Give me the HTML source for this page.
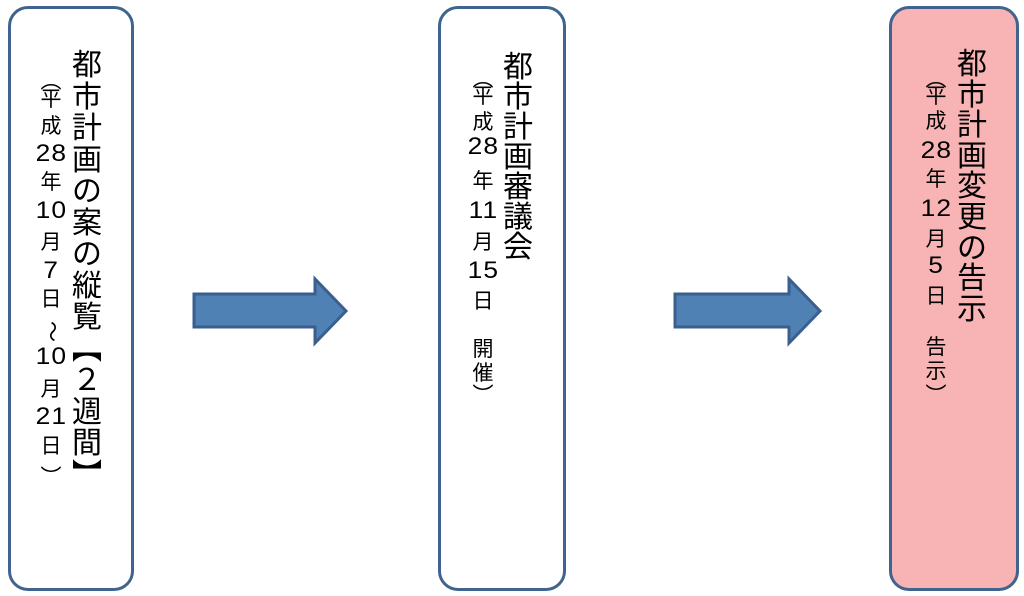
<!DOCTYPE html>
<html><head><meta charset="utf-8"><style>
body{margin:0;width:1024px;height:596px;background:#fff;position:relative;overflow:hidden;font-family:"Liberation Sans","Noto Sans CJK JP",sans-serif;color:#000}
.box{position:absolute;top:6px;border:3px solid #41648f;border-radius:20px;background:#fff;box-sizing:border-box;height:585px}
.c{position:absolute;width:50px;margin-left:-25px;text-align:center;line-height:1;white-space:nowrap}
.b{font-size:30px;margin-top:-15px}
.s{font-size:21px;margin-top:-11px}
.d{font-size:24px;margin-top:-12px;letter-spacing:1px;display:inline-block;transform:scaleX(1.1)}
.r{display:inline-block;transform:rotate(90deg)}
</style></head><body>
<div class="box" style="left:8px;width:126px"></div>
<div class="box" style="left:438px;width:128px"></div>
<div class="box" style="left:889px;width:130px;background:#f8b4b4"></div>
<svg width="1024" height="596" style="position:absolute;left:0;top:0">
<polygon points="194,294 315,294 315,279 346,311 315,343 315,327 194,327" fill="#4f81b5" stroke="#3a5f8e" stroke-width="3"/>
<polygon points="675,294 789,294 789,279 820,311 789,343 789,327 675,327" fill="#4f81b5" stroke="#3a5f8e" stroke-width="3"/>
</svg>
<div id="t"></div>
<script>
function col(x,ys,chars,cls){var h='';for(var i=0;i<chars.length;i++){var ch=chars[i];var c=cls;if(cls==='s'&&/^[0-9]+$/.test(ch)){ch='<span class="d">'+ch+'</span>';}h+='<div class="c '+c+'" style="left:'+x+'px;top:'+ys[i]+'px">'+ch+'</div>';}document.getElementById('t').insertAdjacentHTML('beforeend',h);}
function seq(a,p,n){var r=[];for(var i=0;i<n;i++)r.push(a+p*i);return r;}
var m1=['都','市','計','画','の','案','の','縦','覧','︻','２','週','間','︼'];
col(87,seq(66,31.5,14),m1,'b');
col(51,[82,100,127,155,183,212,243,272,300,332,358,390,418,447,478],['︵','平','成','28','年','10','月','7','日','<span class="r">～</span>','10','月','21','日','︶'],'s');
col(518,seq(68,30,7),['都','市','計','画','審','議','会'],'b');
col(483,[80,97,123,148,182,212,243,272,302,350,374,396],['︵','平','成','28','年','11','月','15','日','開','催','︶'],'s');
col(972,seq(65,30.6,9),['都','市','計','画','変','更','の','告','示'],'b');
col(936,[80,97,122,152,180,210,240,267,297,348,372,396],['︵','平','成','28','年','12','月','5','日','告','示','︶'],'s');
</script>
</body></html>
